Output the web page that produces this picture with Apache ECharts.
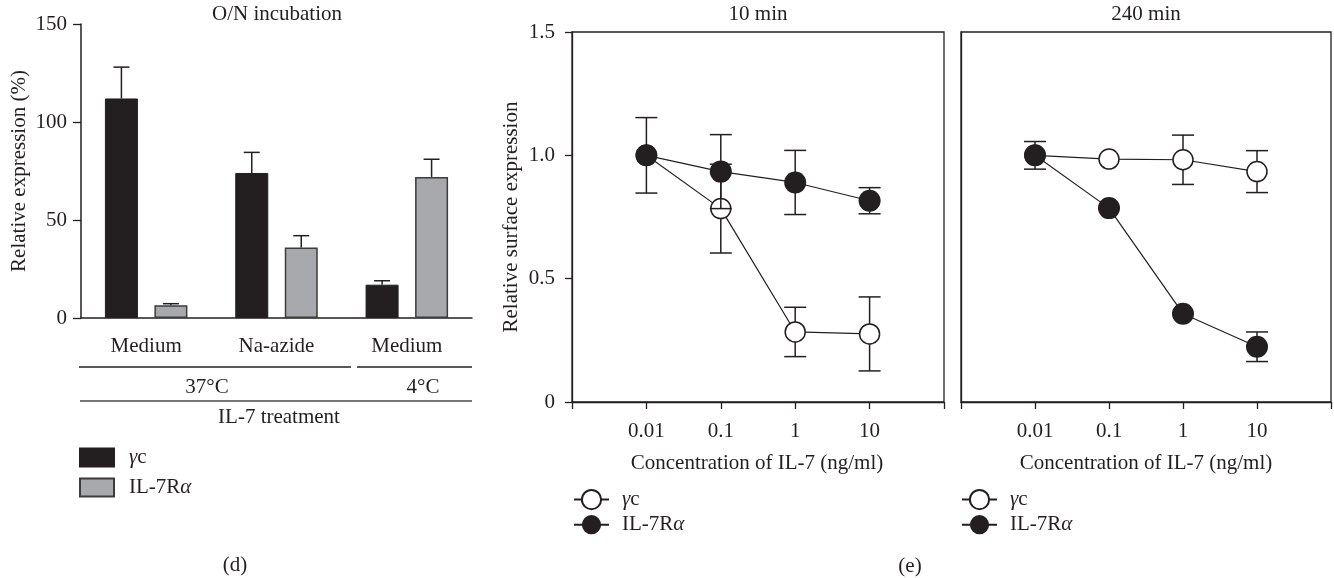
<!DOCTYPE html>
<html>
<head>
<meta charset="utf-8">
<title>IL-7 receptor surface expression</title>
<script src="https://cdn.jsdelivr.net/npm/echarts@6/dist/echarts.min.js"></script>
<style>
  html, body { margin: 0; padding: 0; background: #ffffff; }
  #chart { width: 1334px; height: 578px; }
</style>
</head>
<body>
<div id="chart"></div>
<script>
// ---- (d) overnight incubation, relative expression (%) ----
const groupLabels = ['Medium', 'Na-azide', 'Medium'];
const gammaC = [112, 74, 17];
const gammaCErr = [16, 10.5, 2];
const il7ra = [6.5, 36, 72];
const il7raErr = [0.8, 6, 9];
const barTicks = [0, 50, 100, 150];

// ---- (e) surface expression vs IL-7 concentration ----
const conc = [0.01, 0.1, 1, 10];
const concTickLabels = ['0.01', '0.1', '1', '10'];
const gc10 = [1.0, 0.784, 0.284, 0.276];
const gc10Err = [0, 0.18, 0.1, 0.15];
const ra10 = [1.0, 0.934, 0.89, 0.816];
const ra10Err = [0.153, 0.15, 0.13, 0.053];
const gc240 = [1.0, 0.985, 0.982, 0.934];
const gc240Err = [0, 0, 0.1, 0.085];
const ra240 = [1.0, 0.786, 0.358, 0.224];
const ra240Err = [0.056, 0, 0, 0.06];

const FONT = '"Liberation Serif", "DejaVu Serif", serif';
const FS = 21;
const INK = '#231f20';
const GREY = '#a7a9ac';
const BAR_W = 33;
const BAR_OFFSET = BAR_W * 0.75;   // half of (bar + 50% gap)
const BAR_CAP = 8;
const PT_CAP = 11;

const chart = echarts.init(document.getElementById('chart'), null, { renderer: 'canvas' });

function richName(name) {
  const n = name.split(',')[0];
  if (n === 'γc') return '{i|γ}c';
  return 'IL-7R{i|α}';
}

const legendText = {
  fontFamily: FONT, fontSize: FS, color: INK, padding: [0, 0, 0, 8],
  rich: { i: { fontFamily: FONT, fontSize: FS, fontStyle: 'italic', color: INK } }
};

function barErr(sign) {
  return function (params, api) {
    const i = api.value(0), v = api.value(1), e = api.value(2);
    const b = api.coord([i, v]);
    const t = api.coord([i, v + e]);
    const x = b[0] + sign * BAR_OFFSET;
    const st = { stroke: INK, lineWidth: 1.5 };
    return {
      type: 'group', children: [
        { type: 'line', shape: { x1: x, y1: b[1], x2: x, y2: t[1] }, style: st },
        { type: 'line', shape: { x1: x - BAR_CAP, y1: t[1], x2: x + BAR_CAP, y2: t[1] }, style: st }
      ]
    };
  };
}

function ptErr(params, api) {
  const c = api.value(0), m = api.value(1), e = api.value(2);
  if (!(e > 0)) return null;
  const t = api.coord([c, m + e]);
  const b = api.coord([c, m - e]);
  const x = t[0];
  const st = { stroke: INK, lineWidth: 1.5 };
  return {
    type: 'group', children: [
      { type: 'line', shape: { x1: x, y1: t[1], x2: x, y2: b[1] }, style: st },
      { type: 'line', shape: { x1: x - PT_CAP, y1: t[1], x2: x + PT_CAP, y2: t[1] }, style: st },
      { type: 'line', shape: { x1: x - PT_CAP, y1: b[1], x2: x + PT_CAP, y2: b[1] }, style: st }
    ]
  };
}

const errRows = (means, errs) => conc.map((c, i) => [c, means[i], errs[i]]);
const ptRows = (means) => conc.map((c, i) => [c, means[i]]);

function concAxis(gridIndex) {
  return {
    type: 'log', logBase: 10, min: 0.001, max: 100, gridIndex,
    axisLine: { show: true, lineStyle: { color: INK, width: 1.3 } },
    axisTick: { show: true, length: 7, lineStyle: { color: INK, width: 1.3 } },
    minorTick: { show: false },
    splitLine: { show: false },
    axisLabel: {
      margin: 19, fontFamily: FONT, fontSize: FS, color: INK,
      formatter: function (v) {
        const e = Math.round(Math.log10(v));
        const idx = conc.findIndex(c => Math.round(Math.log10(c)) === e);
        return idx >= 0 ? concTickLabels[idx] : '';
      }
    }
  };
}

function lineSeries(name, data, gridIdx, filled, z) {
  return {
    type: 'line', name, xAxisIndex: gridIdx, yAxisIndex: gridIdx, z,
    data, symbol: 'circle', symbolSize: filled ? 22 : 20,
    lineStyle: { color: INK, width: 1.2 },
    itemStyle: filled ? { color: INK, borderColor: INK, borderWidth: 0 }
                      : { color: '#ffffff', borderColor: INK, borderWidth: 1.5 },
    emphasis: { disabled: true }, animation: false
  };
}

function errSeries(data, gridIdx, z) {
  return {
    type: 'custom', xAxisIndex: gridIdx, yAxisIndex: gridIdx, z,
    renderItem: ptErr, data, animation: false, silent: true
  };
}

const txt = (text, x, y, extra) => Object.assign({
  type: 'text', x, y,
  style: { text, fontFamily: FONT, fontSize: FS, fill: INK, align: 'center', verticalAlign: 'middle' }
}, extra || {});
const hline = (x1, x2, y, color) => ({
  type: 'line', shape: { x1, y1: y, x2, y2: y },
  style: { stroke: color || INK, lineWidth: 1.5 }
});

const option = {
  backgroundColor: '#ffffff',
  animation: false,
  textStyle: { fontFamily: FONT },
  grid: [
    { left: 81, top: 24, width: 391, height: 294 },
    { left: 572, top: 32, width: 372, height: 370, show: true, borderColor: INK, borderWidth: 1.3 },
    { left: 961, top: 32, width: 371, height: 370, show: true, borderColor: INK, borderWidth: 1.3 }
  ],
  xAxis: [
    {
      type: 'category', gridIndex: 0, data: groupLabels.map((g, i) => i + ':' + g),
      axisLine: { lineStyle: { color: INK, width: 1.5 } },
      axisTick: { alignWithLabel: true, length: 8, lineStyle: { color: INK, width: 1.3 } },
      axisLabel: { margin: 18, fontFamily: FONT, fontSize: FS, color: INK,
        formatter: (v, i) => groupLabels[i] }
    },
    concAxis(1),
    concAxis(2)
  ],
  yAxis: [
    {
      type: 'value', gridIndex: 0, min: barTicks[0], max: barTicks[barTicks.length - 1], interval: 50,
      axisLine: { show: true, lineStyle: { color: INK, width: 1.5 } },
      axisTick: { show: true, length: 8, lineStyle: { color: INK, width: 1.3 } },
      splitLine: { show: false },
      axisLabel: { margin: 14, fontFamily: FONT, fontSize: FS, color: INK }
    },
    {
      type: 'value', gridIndex: 1, min: 0, max: 1.5, interval: 0.5,
      axisLine: { show: true, lineStyle: { color: INK, width: 1.3 } },
      axisTick: { show: true, length: 7, lineStyle: { color: INK, width: 1.3 } },
      splitLine: { show: false },
      axisLabel: { margin: 17, fontFamily: FONT, fontSize: FS, color: INK,
        formatter: v => (v === 0 ? '0' : v.toFixed(1)) }
    },
    {
      type: 'value', gridIndex: 2, min: 0, max: 1.5, interval: 0.5,
      axisLine: { show: true, lineStyle: { color: INK, width: 1.3 } },
      axisTick: { show: false }, axisLabel: { show: false }, splitLine: { show: false }
    }
  ],
  legend: [
    {
      data: ['γc', 'IL-7Rα'], orient: 'vertical', left: 79, top: 447, padding: 0,
      icon: 'rect', itemWidth: 34, itemHeight: 18, itemGap: 9, selectedMode: false,
      formatter: richName, textStyle: Object.assign({}, legendText, { padding: [0, 0, 0, 10] })
    },
    {
      data: ['γc, 10 min', 'IL-7Rα, 10 min'], orient: 'vertical', left: 573, top: 489, padding: 0,
      itemWidth: 35, itemHeight: 24, itemGap: 4, selectedMode: false,
      formatter: richName, textStyle: legendText
    },
    {
      data: ['γc, 240 min', 'IL-7Rα, 240 min'], orient: 'vertical', left: 961, top: 489, padding: 0,
      itemWidth: 35, itemHeight: 24, itemGap: 4, selectedMode: false,
      formatter: richName, textStyle: legendText
    }
  ],
  series: [
    {
      type: 'bar', name: 'γc', xAxisIndex: 0, yAxisIndex: 0, data: gammaC,
      barWidth: BAR_W, barGap: '50%',
      itemStyle: { color: INK, borderColor: INK, borderWidth: 1 }
    },
    {
      type: 'bar', name: 'IL-7Rα', xAxisIndex: 0, yAxisIndex: 0, data: il7ra,
      barWidth: BAR_W, barGap: '50%',
      itemStyle: { color: GREY, borderColor: '#3c3b3d', borderWidth: 1.5 }
    },
    {
      type: 'custom', xAxisIndex: 0, yAxisIndex: 0, z: 3, silent: true,
      renderItem: barErr(-1), data: groupLabels.map((g, i) => [i, gammaC[i], gammaCErr[i]])
    },
    {
      type: 'custom', xAxisIndex: 0, yAxisIndex: 0, z: 3, silent: true,
      renderItem: barErr(1), data: groupLabels.map((g, i) => [i, il7ra[i], il7raErr[i]])
    },

    errSeries(errRows(gc10, gc10Err), 1, 2),
    lineSeries('γc, 10 min', ptRows(gc10), 1, false, 3),
    errSeries(errRows(ra10, ra10Err), 1, 4),
    lineSeries('IL-7Rα, 10 min', ptRows(ra10), 1, true, 5),

    errSeries(errRows(gc240, gc240Err), 2, 2),
    lineSeries('γc, 240 min', ptRows(gc240), 2, false, 3),
    errSeries(errRows(ra240, ra240Err), 2, 4),
    lineSeries('IL-7Rα, 240 min', ptRows(ra240), 2, true, 5)
  ],
  graphic: [
    // (d) titles and treatment brackets
    txt('O/N incubation', 277, 14),
    txt('Relative expression (%)', 19, 171, { rotation: Math.PI / 2 }),
    hline(79, 351, 367),
    hline(357, 472, 367),
    txt('37°C', 207, 387),
    txt('4°C', 423, 387),
    hline(80, 472, 401, '#4a4a4c'),
    txt('IL-7 treatment', 279, 417),
    txt('(d)', 235, 565),
    // (e) titles and axis names
    txt('10 min', 758, 14),
    txt('240 min', 1146, 14),
    txt('Relative surface expression', 511, 217, { rotation: Math.PI / 2 }),
    txt('Concentration of IL-7 (ng/ml)', 757, 463),
    txt('Concentration of IL-7 (ng/ml)', 1146, 463),
    txt('(e)', 910, 566)
  ]
};

chart.setOption(option);
</script>
</body>
</html>
